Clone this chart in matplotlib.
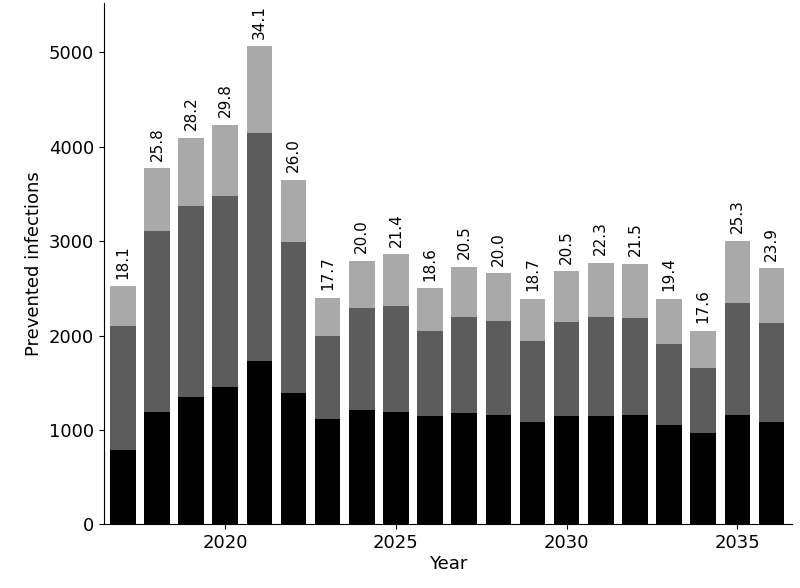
import numpy as np
import matplotlib.pyplot as plt

years = np.arange(2017, 2037)
# cumulative heights
lower = [790, 1190, 1350, 1460, 1730, 1390, 1120, 1210, 1190, 1150,
         1180, 1160, 1090, 1150, 1150, 1160, 1050, 970, 1160, 1090]
middle_top = [2100, 3110, 3370, 3480, 4140, 2990, 2000, 2290, 2310, 2050,
              2200, 2150, 1940, 2140, 2200, 2190, 1910, 1660, 2340, 2130]
total = [2520, 3770, 4090, 4230, 5060, 3650, 2400, 2790, 2860, 2500,
         2730, 2660, 2390, 2680, 2770, 2760, 2390, 2050, 3000, 2710]
labels = ['18.1', '25.8', '28.2', '29.8', '34.1', '26.0', '17.7', '20.0', '21.4', '18.6',
          '20.5', '20.0', '18.7', '20.5', '22.3', '21.5', '19.4', '17.6', '25.3', '23.9']

lower = np.array(lower)
middle_top = np.array(middle_top)
total = np.array(total)

fig, ax = plt.subplots(figsize=(8, 5.88), dpi=100)
fig.subplots_adjust(left=0.13, right=0.99, top=0.995, bottom=0.108)

w = 0.75
ax.bar(years, lower, width=w, color='black')
ax.bar(years, middle_top - lower, bottom=lower, width=w, color='#5c5c5c')
ax.bar(years, total - middle_top, bottom=middle_top, width=w, color='#a9a9a9')

for x, t, lab in zip(years, total, labels):
    ax.text(x, t + 80, lab, rotation=90, ha='center', va='bottom', fontsize=11)

ax.set_xlim(2016.45, 2036.6)
ax.set_ylim(0, 5520)
ax.set_xticks([2020, 2025, 2030, 2035])
ax.set_yticks([0, 1000, 2000, 3000, 4000, 5000])
ax.tick_params(labelsize=13)
ax.set_xlabel('Year', fontsize=13, labelpad=2)
ax.set_ylabel('Prevented infections', fontsize=13)
ax.spines['top'].set_visible(False)
ax.spines['right'].set_visible(False)

fig.savefig('out.png')
